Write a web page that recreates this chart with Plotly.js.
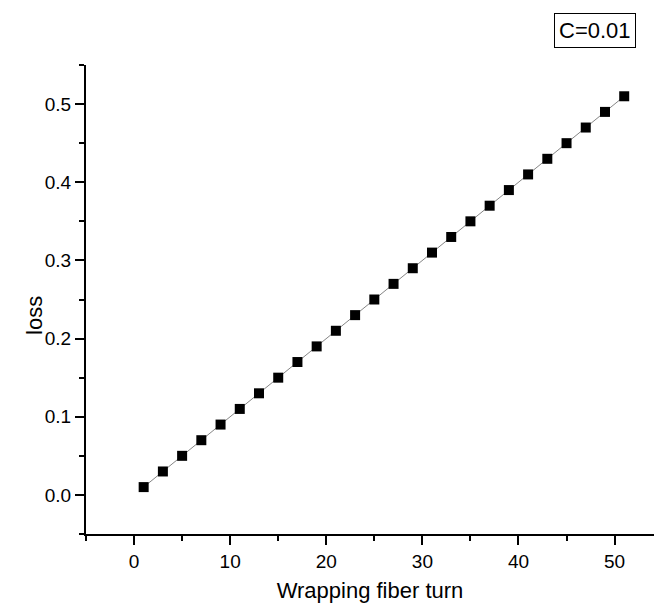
<!DOCTYPE html>
<html>
<head>
<meta charset="utf-8">
<script src="https://cdn.plot.ly/plotly-3.0.1.min.js"></script>
<style>html,body{margin:0;padding:0;background:#fff;}#chart{width:654px;height:603px;}</style>
</head>
<body>
<div id="chart"></div>
<script>
const turns = [1,3,5,7,9,11,13,15,17,19,21,23,25,27,29,31,33,35,37,39,41,43,45,47,49,51];
const loss = [0.01,0.03,0.05,0.07,0.09,0.11,0.13,0.15,0.17,0.19,0.21,0.23,0.25,0.27,0.29,0.31,0.33,0.35,0.37,0.39,0.41,0.43,0.45,0.47,0.49,0.51];
const xTitle = 'Wrapping fiber turn';
const yTitle = 'loss';
const note = 'C=0.01';

const font = 'Liberation Sans, Arial, sans-serif';
Plotly.newPlot('chart', [{
  x: turns, y: loss, type: 'scatter', mode: 'lines+markers',
  line: {color: '#666', width: 0.8},
  marker: {symbol: 'square', size: 10, color: '#000', line: {width: 0}}
}], {
  width: 654, height: 603,
  margin: {l: 86, r: 0, t: 65, b: 69},
  paper_bgcolor: '#fff', plot_bgcolor: '#fff',
  showlegend: false,
  font: {family: font, color: '#000', size: 19},
  xaxis: {
    range: [-5, 54.1], dtick: 10, tick0: 0,
    showgrid: false, zeroline: false,
    showline: true, linecolor: '#000', linewidth: 2,
    ticks: 'outside', ticklen: 9, tickwidth: 2, tickcolor: '#000',
    minor: {dtick: 5, ticks: 'outside', ticklen: 5, tickwidth: 2, tickcolor: '#000', showgrid: false},
    tickfont: {family: font, size: 19, color: '#000'},
    title: {text: xTitle, font: {family: font, size: 22, color: '#000'}, standoff: 14}
  },
  yaxis: {
    range: [-0.05, 0.55], dtick: 0.1, tick0: 0, tickformat: '.1f',
    showgrid: false, zeroline: false,
    showline: true, linecolor: '#000', linewidth: 2,
    ticks: 'outside', ticklen: 9, tickwidth: 2, tickcolor: '#000',
    minor: {dtick: 0.05, ticks: 'outside', ticklen: 5, tickwidth: 2, tickcolor: '#000', showgrid: false},
    tickfont: {family: font, size: 19, color: '#000'}
  },
  annotations: [{
    text: yTitle, xref: 'paper', yref: 'paper',
    x: -0.0898, y: 0.467, xanchor: 'center', yanchor: 'middle', textangle: -90,
    showarrow: false, font: {family: font, size: 22, color: '#000'}
  }, {
    text: note, xref: 'paper', yref: 'paper',
    x: 0.968, y: 1.0, xanchor: 'right', yanchor: 'top', yshift: 52,
    showarrow: false, font: {family: font, size: 22, color: '#000'},
    bordercolor: '#000', borderwidth: 1, borderpad: 4, bgcolor: '#fff'
  }]
}, {displayModeBar: false, staticPlot: true});
</script>
</body>
</html>
